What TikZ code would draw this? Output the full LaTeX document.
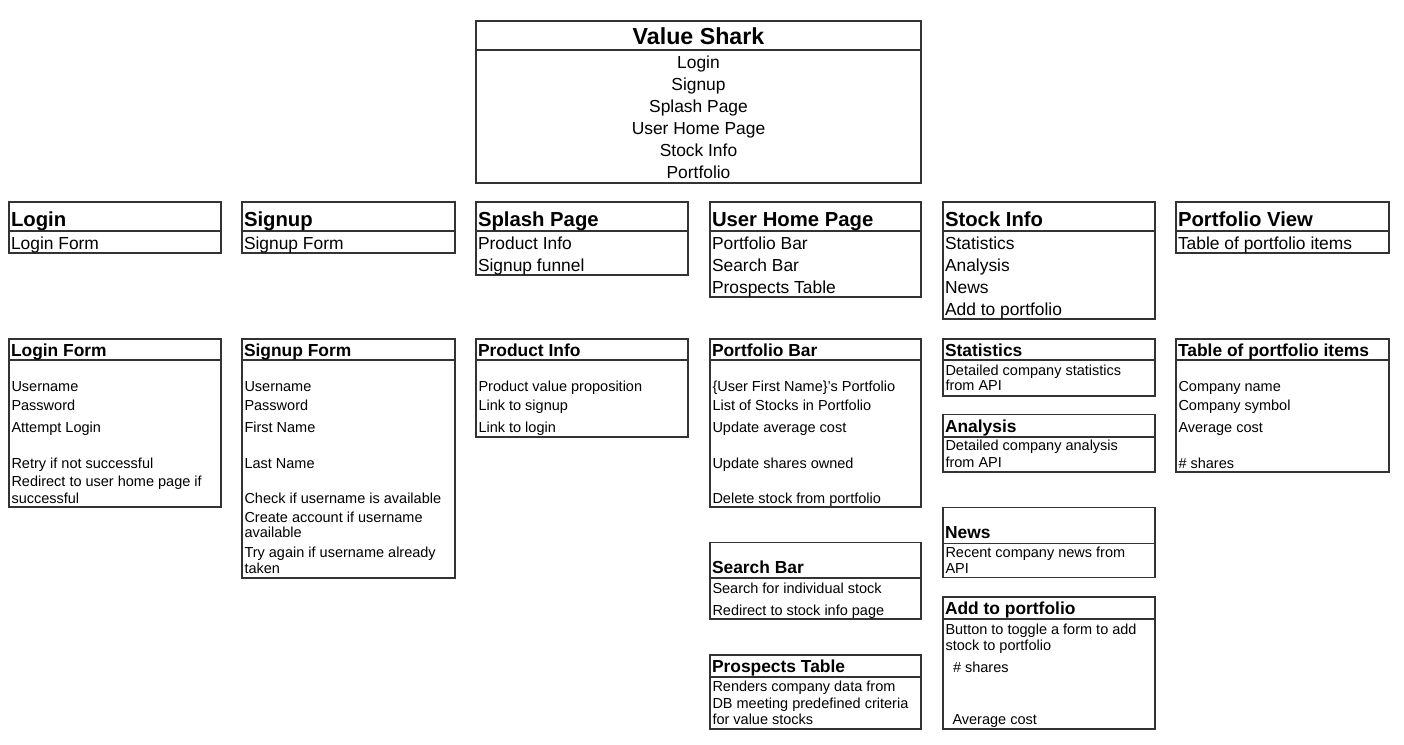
\documentclass[tikz,border=0pt]{standalone}
\usepackage{fontspec}
\setmainfont{Liberation Sans}
\tikzset{
  bx/.style={draw=black!80, line width=1.1pt, inner sep=0pt, outer sep=0pt, anchor=north west},
  sepl/.style={draw=black!80, line width=1.1pt},
  tl/.style={anchor=base west, inner sep=0pt, outer sep=0pt, yshift=-0.8pt},
  ttl/.style={font=\fontsize{23.2}{26}\selectfont\bfseries, anchor=base, inner sep=0pt, yshift=-0.8pt},
  cM/.style={font=\fontsize{17.4}{20}\selectfont, anchor=base, inner sep=0pt, yshift=-0.8pt},
  hA/.style={tl, font=\fontsize{20.3}{24}\selectfont\bfseries},
  bM/.style={tl, font=\fontsize{17.4}{20}\selectfont},
  hB/.style={tl, font=\fontsize{17.4}{20}\selectfont\bfseries},
  bS/.style={tl, font=\fontsize{14.5}{17}\selectfont},
}
% name, x1, y1, x2, ysep, y2
\newcommand\cbox[6]{%
  \node[bx, minimum width={(#4-(#2))*1pt}, minimum height={(#6-(#3))*1pt}] (#1) at (#2,#3) {};
  \draw[sepl] (#2,#5) -- (#4,#5);}
\begin{document}
\begin{tikzpicture}[x=1pt,y=-1pt]
\useasboundingbox[fill=white] (0,0) rectangle (1404,744);

% top box
\cbox{vs}{476}{21}{921}{50}{183}
\node[ttl] (vsT) at (698.5,44) {Value Shark};
\node[cM] (vs1) at (698.5,67.7) {Login};
\node[cM] (vs2) at (698.5,89.7) {Signup};
\node[cM] (vs3) at (698.5,111.7) {Splash Page};
\node[cM] (vs4) at (698.5,133.7) {User Home Page};
\node[cM] (vs5) at (698.5,155.7) {Stock Info};
\node[cM] (vs6) at (698.5,177.7) {Portfolio};

% row 2
\cbox{login}{9}{202}{221}{231}{253}
\node[hA] (loginT) at (11,225.7) {Login};
\node[bM] (login1) at (11,248.3) {Login Form};

\cbox{signup}{242}{202}{455}{231}{253}
\node[hA] (signupT) at (244,225.7) {Signup};
\node[bM] (signup1) at (244,248.3) {Signup Form};

\cbox{splash}{476}{202}{688}{231}{275}
\node[hA] (splashT) at (478,225.7) {Splash Page};
\node[bM] (splash1) at (478,248.3) {Product Info};
\node[bM] (splash2) at (478,270.3) {Signup funnel};

\cbox{uhp}{710}{202}{921}{231}{297}
\node[hA] (uhpT) at (712,225.7) {User Home Page};
\node[bM] (uhp1) at (712,248.3) {Portfolio Bar};
\node[bM] (uhp2) at (712,270.3) {Search Bar};
\node[bM] (uhp3) at (712,292.3) {Prospects Table};

\cbox{si}{943}{202}{1155}{231}{319}
\node[hA] (siT) at (945,225.7) {Stock Info};
\node[bM] (si1) at (945,248.3) {Statistics};
\node[bM] (si2) at (945,270.3) {Analysis};
\node[bM] (si3) at (945,292.3) {News};
\node[bM] (si4) at (945,314.3) {Add to portfolio};

\cbox{pv}{1176}{202}{1389}{231}{253}
\node[hA] (pvT) at (1178,225.7) {Portfolio View};
\node[bM] (pv1) at (1178,248.3) {Table of portfolio items};

% row 3
\cbox{lf}{9}{339}{221}{360}{507}
\node[hB] (lfT) at (11,355.7) {Login Form};
\node[bS] (lf1) at (11.5,390.7) {Username};
\node[bS] (lf2) at (11.5,409.7) {Password};
\node[bS] (lf3) at (11.5,431.7) {Attempt Login};
\node[bS] (lf4) at (11.5,467.3) {Retry if not successful};
\node[bS] (lf5) at (11.5,485.7) {Redirect to user home page if};
\node[bS] (lf6) at (11.5,502.3) {successful};

\cbox{sf}{242}{339}{455}{360}{578}
\node[hB] (sfT) at (244,355.7) {Signup Form};
\node[bS] (sf1) at (244.5,390.7) {Username};
\node[bS] (sf2) at (244.5,409.7) {Password};
\node[bS] (sf3) at (244.5,431.7) {First Name};
\node[bS] (sf4) at (244.5,467.3) {Last Name};
\node[bS] (sf5) at (244.5,502.3) {Check if username is available};
\node[bS] (sf6) at (244.5,521.3) {Create account if username};
\node[bS] (sf7) at (244.5,537) {available};
\node[bS] (sf8) at (244.5,556.7) {Try again if username already};
\node[bS] (sf9) at (244.5,573) {taken};

\cbox{pi}{476}{339}{688}{360}{437}
\node[hB] (piT) at (478,355.7) {Product Info};
\node[bS] (pi1) at (478.5,390.7) {Product value proposition};
\node[bS] (pi2) at (478.5,409.7) {Link to signup};
\node[bS] (pi3) at (478.5,431.7) {Link to login};

\cbox{pb}{710}{339}{921}{360}{507}
\node[hB] (pbT) at (712,355.7) {Portfolio Bar};
\node[bS] (pb1) at (712.5,390.7) {\{User First Name\}’s Portfolio};
\node[bS] (pb2) at (712.5,409.7) {List of Stocks in Portfolio};
\node[bS] (pb3) at (712.5,431.7) {Update average cost};
\node[bS] (pb4) at (712.5,467.3) {Update shares owned};
\node[bS] (pb5) at (712.5,502.3) {Delete stock from portfolio};

\cbox{st}{943}{339}{1155}{360}{396}
\node[hB] (stT) at (945,355.7) {Statistics};
\node[bS] (st1) at (945.5,374.3) {Detailed company statistics};
\node[bS] (st2) at (945.5,390) {from API};

\cbox{an}{943}{414.5}{1155}{437}{472}
\node[hB] (anT) at (945,431.7) {Analysis};
\node[bS] (an1) at (945.5,450) {Detailed company analysis};
\node[bS] (an2) at (945.5,466.7) {from API};

\cbox{tp}{1176}{339}{1389}{360}{472}
\node[hB] (tpT) at (1178,355.7) {Table of portfolio items};
\node[bS] (tp1) at (1178.5,390.7) {Company name};
\node[bS] (tp2) at (1178.5,409.7) {Company symbol};
\node[bS] (tp3) at (1178.5,431.7) {Average cost};
\node[bS] (tp4) at (1178.5,467.3) {\# shares};

\cbox{nw}{943}{507.5}{1155}{543.5}{577.5}
\node[hB] (nwT) at (945,537.3) {News};
\node[bS] (nw1) at (945.5,556.7) {Recent company news from};
\node[bS] (nw2) at (945.5,573) {API};

\cbox{sb}{710}{542.5}{921}{578}{619}
\node[hB] (sbT) at (712,572.3) {Search Bar};
\node[bS] (sb1) at (712.5,592.3) {Search for individual stock};
\node[bS] (sb2) at (712.5,614.3) {Redirect to stock info page};

\cbox{pt}{710}{655}{921}{677}{729}
\node[hB] (ptT) at (712,671.7) {Prospects Table};
\node[bS] (pt1) at (712.5,691) {Renders company data from};
\node[bS] (pt2) at (712.5,707.7) {DB meeting predefined criteria};
\node[bS] (pt3) at (712.5,723.3) {for value stocks};

\cbox{ap}{943}{597}{1155}{619}{729}
\node[hB] (apT) at (945,613.3) {Add to portfolio};
\node[bS] (ap1) at (945.5,634) {Button to toggle a form to add};
\node[bS] (ap2) at (945.5,650) {stock to portfolio};
\node[bS] (ap3) at (953,671.7) {\# shares};
\node[bS] (ap4) at (952.5,723.3) {Average cost};
\end{tikzpicture}
\end{document}
